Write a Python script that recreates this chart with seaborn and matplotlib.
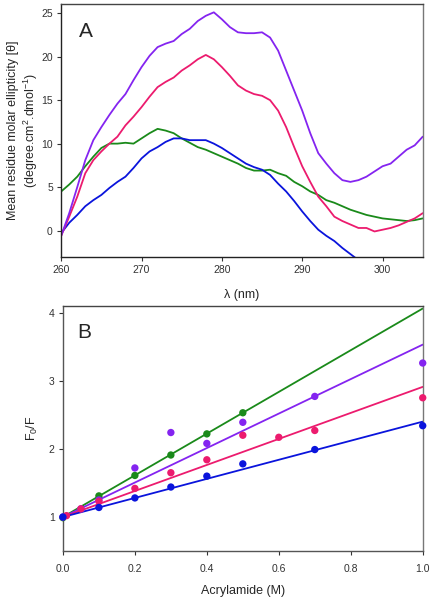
import numpy as np
import pandas as pd
import matplotlib
matplotlib.use("Agg")
import matplotlib.pyplot as plt
import seaborn as sns

# ---- panel A: CD spectra (read every 1 nm) ----
wavelength = list(range(260, 306))
cd_purple = [-0.6, 2.0, 5.0, 8.1, 10.4, 11.9, 13.3, 14.6, 15.7, 17.3, 18.8, 20.1, 21.1, 21.5,
             21.8, 22.6, 23.2, 24.1, 24.7, 25.1, 24.3, 23.4, 22.8, 22.7, 22.7, 22.8, 22.2, 20.7,
             18.4, 16.1, 13.8, 11.2, 8.9, 7.7, 6.6, 5.8, 5.6, 5.8, 6.2, 6.8, 7.4, 7.7, 8.5, 9.3,
             9.8, 10.8]
cd_pink = [-0.6, 1.6, 3.9, 6.6, 8.1, 9.1, 10.0, 10.8, 12.1, 13.1, 14.2, 15.4, 16.5, 17.1,
           17.6, 18.4, 19.0, 19.7, 20.2, 19.7, 18.8, 17.8, 16.7, 16.1, 15.7, 15.5, 15.0, 13.8,
           11.9, 9.6, 7.4, 5.6, 3.9, 2.8, 1.6, 1.1, 0.7, 0.3, 0.3, -0.1, 0.1, 0.3, 0.6, 1.0,
           1.4, 2.0]
cd_green = [4.5, 5.3, 6.2, 7.4, 8.5, 9.5, 10.0, 10.0, 10.1, 10.0, 10.6, 11.2, 11.7, 11.5,
            11.2, 10.6, 10.1, 9.6, 9.3, 8.9, 8.5, 8.1, 7.7, 7.2, 6.9, 6.9, 7.0, 6.6, 6.3, 5.6,
            5.1, 4.5, 4.1, 3.5, 3.2, 2.8, 2.4, 2.1, 1.8, 1.6, 1.4, 1.3, 1.2, 1.1, 1.2, 1.4]
cd_blue = [-0.3, 0.9, 1.8, 2.8, 3.5, 4.1, 4.9, 5.6, 6.2, 7.2, 8.3, 9.1, 9.6, 10.2, 10.6,
           10.6, 10.4, 10.4, 10.4, 10.0, 9.5, 8.9, 8.3, 7.7, 7.3, 7.0, 6.4, 5.4, 4.5, 3.4, 2.2,
           1.1, 0.1, -0.6, -1.2, -2.0, -2.7, -3.4, -4.1, -4.8, -5.5, -6.2, -6.9, -7.6, -8.3, -9.0]

# ---- panel B: Stern-Volmer data ----
green_x = [0.0, 0.1, 0.2, 0.3, 0.4, 0.5]
green_y = [0.99, 1.31, 1.61, 1.91, 2.22, 2.53]
purple_x = [0.0, 0.05, 0.1, 0.2, 0.3, 0.4, 0.5, 0.7, 1.0]
purple_y = [1.0, 1.12, 1.25, 1.72, 2.24, 2.08, 2.39, 2.77, 3.26]
pink_x = [0.01, 0.05, 0.1, 0.2, 0.3, 0.4, 0.5, 0.6, 0.7, 1.0]
pink_y = [1.02, 1.12, 1.23, 1.42, 1.65, 1.84, 2.20, 2.17, 2.27, 2.75]
blue_x = [0.0, 0.1, 0.2, 0.3, 0.4, 0.5, 0.7, 1.0]
blue_y = [1.0, 1.14, 1.28, 1.44, 1.60, 1.78, 1.99, 2.34]
# fitted Stern-Volmer constants (F0/F = 1 + Ksv [Q])
ksv = {"green": 3.06, "purple": 2.53, "pink": 1.91, "blue": 1.40}

colors = {"purple": "#8424F0", "pink": "#EC1B6E", "green": "#1A8A1A", "blue": "#0A14DC"}

sns.set_style("white")
plt.rcParams["font.family"] = ["Liberation Sans", "DejaVu Sans"]
plt.rcParams["mathtext.fontset"] = "custom"
plt.rcParams["mathtext.rm"] = "Liberation Sans"
plt.rcParams["mathtext.it"] = "Liberation Sans"

fig = plt.figure(figsize=(4.34, 5.99), dpi=100)
axA = fig.add_axes([0.141, 0.5715, 0.833, 0.421])
axB = fig.add_axes([0.145, 0.080, 0.829, 0.4095])

spec = pd.DataFrame({"wl": wavelength, "purple": cd_purple, "pink": cd_pink,
                     "green": cd_green, "blue": cd_blue})
for name in ["green", "blue", "pink", "purple"]:
    sns.lineplot(data=spec, x="wl", y=name, ax=axA, color=colors[name], lw=1.3)
axA.set_xlim(260, 305)
axA.set_ylim(-3, 26)
axA.set_xticks([260, 270, 280, 290, 300])
axA.set_yticks([0, 5, 10, 15, 20, 25])
axA.set_xlabel("λ (nm)", fontsize=9, labelpad=10)
axA.set_ylabel("Mean residue molar ellipticity [θ]\n(degree.cm$^2$.dmol$^{-1}$)",
               fontsize=9, labelpad=1)
axA.text(0.05, 0.93, "A", transform=axA.transAxes, fontsize=15, va="top")

xfit = np.array([0.0, 1.0])
groups = [("green", green_x, green_y), ("purple", purple_x, purple_y),
          ("pink", pink_x, pink_y), ("blue", blue_x, blue_y)]
for name, xs, ys in groups:
    sns.lineplot(x=xfit, y=1 + ksv[name] * xfit, ax=axB, color=colors[name], lw=1.3)
    sns.scatterplot(x=xs, y=ys, ax=axB, color=colors[name], s=28, edgecolor="none",
                    zorder=3, clip_on=False)
axB.set_xlim(0, 1.0)
axB.set_ylim(0.5, 4.1)
axB.set_xticks([0.0, 0.2, 0.4, 0.6, 0.8, 1.0])
axB.set_yticks([1, 2, 3, 4])
axB.set_xlabel("Acrylamide (M)", fontsize=9, labelpad=8)
axB.set_ylabel("F$_0$/F", fontsize=9, labelpad=6)
axB.text(0.04, 0.93, "B", transform=axB.transAxes, fontsize=15, va="top")

for ax, sc in [(axA, "#222222"), (axB, "#555555")]:
    for s in ax.spines.values():
        s.set_color(sc)
        s.set_linewidth(1.0)
    ax.spines["top"].set_color("#444444")
    ax.spines["right"].set_color("#777777")
    ax.tick_params(axis="both", direction="out", length=3, width=0.8,
                   labelsize=7.5, colors="#333333", pad=3)
    ax.tick_params(left=True, bottom=True)
axB.tick_params(axis="x", pad=6)

fig.savefig("out.png", dpi=100)
